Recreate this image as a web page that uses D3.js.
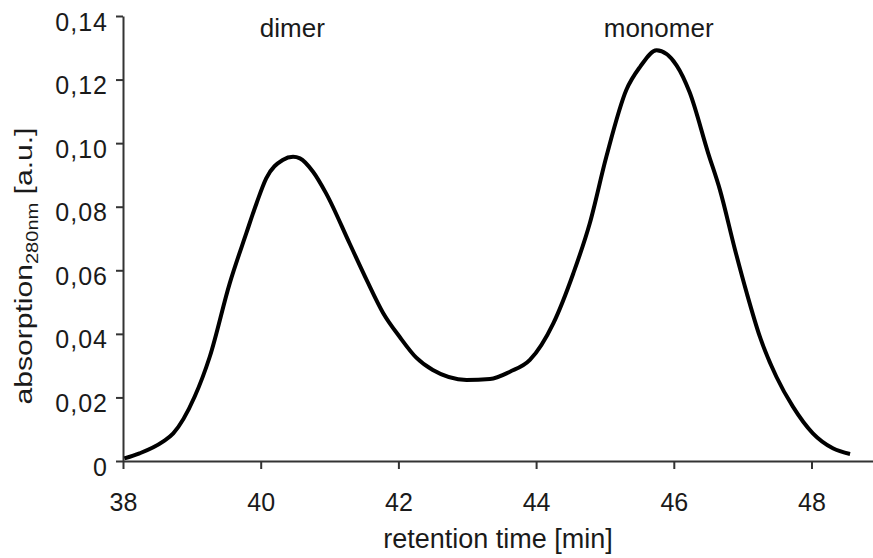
<html>
<head>
<meta charset="utf-8">
<script src="https://d3js.org/d3.v7.min.js"></script>
<style>
    body { margin: 0; background: #fff; }
    .chart text { font-family: "Liberation Sans", Arial, sans-serif; fill: #1a1a1a; }
</style>
</head>
<body>
<svg class="chart" width="873" height="558"></svg>
<script>
    // retention time [min] and absorption
    let times = [38.02, 38.24, 38.58, 38.73, 39.04, 39.26, 39.55, 39.79, 39.94, 40.08,
                 40.32, 40.47, 40.57, 40.76, 40.95, 41.29, 41.54, 41.78, 42.02, 42.26,
                 42.50, 42.99, 43.33, 43.62, 43.91, 44.25, 44.54, 44.78, 45.02, 45.31,
                 45.51, 45.75, 46.04, 46.23, 46.50, 46.67, 46.89, 47.06, 47.25, 47.49,
                 47.73, 48.02, 48.31, 48.56]
    let absorption = [0.0008, 0.0024, 0.0061, 0.0087, 0.0202, 0.0328, 0.0559, 0.0716, 0.0811, 0.0889,
                      0.0947, 0.0957, 0.0952, 0.0910, 0.0842, 0.0685, 0.0569, 0.0465, 0.0390, 0.0325,
                      0.0286, 0.0255, 0.0258, 0.0281, 0.0318, 0.0433, 0.0590, 0.0748, 0.0957, 0.1167,
                      0.1240, 0.1292, 0.1245, 0.1160, 0.0968, 0.0853, 0.0664, 0.0528, 0.0391, 0.0265,
                      0.0171, 0.0087, 0.0040, 0.0022]
    let xTicks = [38, 40, 42, 44, 46, 48]
    let yTicks = [0, 0.02, 0.04, 0.06, 0.08, 0.10, 0.12, 0.14]
    let peakLabels = [{text: 'dimer', t: 40.46}, {text: 'monomer', t: 45.78}]

    let svg = d3.select('svg')
    let x0 = 123, x1 = 873, y0 = 461, y1 = 16

    let xScale = d3.scaleLinear().domain([38, 38 + (x1 - x0) / 68.85]).range([x0, x1])
    let yScale = d3.scaleLinear().domain([0, 0.14]).range([y0, y1])

    let fmt = d => d === 0 ? '0' : d3.format('.2f')(d).replace('.', ',')

    let xAxis = svg.append('g')
        .attr('transform', 'translate(0,' + y0 + ')')
        .call(d3.axisBottom(xScale).tickValues(xTicks).tickSize(8).tickSizeOuter(0).tickPadding(24))
    let yAxis = svg.append('g')
        .attr('transform', 'translate(' + x0 + ',0)')
        .call(d3.axisLeft(yScale).tickValues(yTicks).tickSize(7).tickSizeOuter(0).tickPadding(10).tickFormat(fmt))

    for (let ax of [xAxis, yAxis]) {
        ax.select('.domain').attr('stroke', '#333').attr('stroke-width', 2)
        ax.selectAll('.tick line').attr('stroke', '#333').attr('stroke-width', 2)
        ax.selectAll('.tick text')
            .attr('fill', '#1a1a1a')
            .style('font-family', '"Liberation Sans", Arial, sans-serif')
            .style('font-size', '25px')
    }
    // labels on the y axis sit a little below their ticks in the original
    yAxis.selectAll('.tick text').attr('y', 6).attr('dx', 2).style('letter-spacing', '1px')

    let line = d3.line()
        .x((d, i) => xScale(times[i]))
        .y(d => yScale(d))
        .curve(d3.curveMonotoneX)

    svg.append('path')
        .datum(absorption)
        .attr('fill', 'none')
        .attr('stroke', '#000')
        .attr('stroke-width', 4)
        .attr('stroke-linejoin', 'round')
        .attr('d', line)

    svg.selectAll('.peak')
        .data(peakLabels)
        .enter()
        .append('text')
        .attr('class', 'peak')
        .attr('text-anchor', 'middle')
        .attr('x', d => xScale(d.t))
        .attr('y', 37)
        .style('font-size', '26px')
        .text(d => d.text)

    svg.append('text')
        .attr('text-anchor', 'middle')
        .attr('x', 498)
        .attr('y', 548)
        .style('font-size', '27px')
        .text('retention time [min]')

    // y title, stretched along its length to fit the original span
    let yTitle = svg.append('text')
        .attr('text-anchor', 'middle')
        .style('font-size', '24px')
    yTitle.append('tspan').text('absorption')
    yTitle.append('tspan').attr('dy', 6).style('font-size', '16px').text('280nm')
    yTitle.append('tspan').attr('dy', -6).text(' [a.u.]')
    let len = yTitle.node().getComputedTextLength()
    yTitle.attr('transform', 'translate(32,266) rotate(-90) scale(' + (277 / len) + ',1)')
</script>
</body>
</html>
